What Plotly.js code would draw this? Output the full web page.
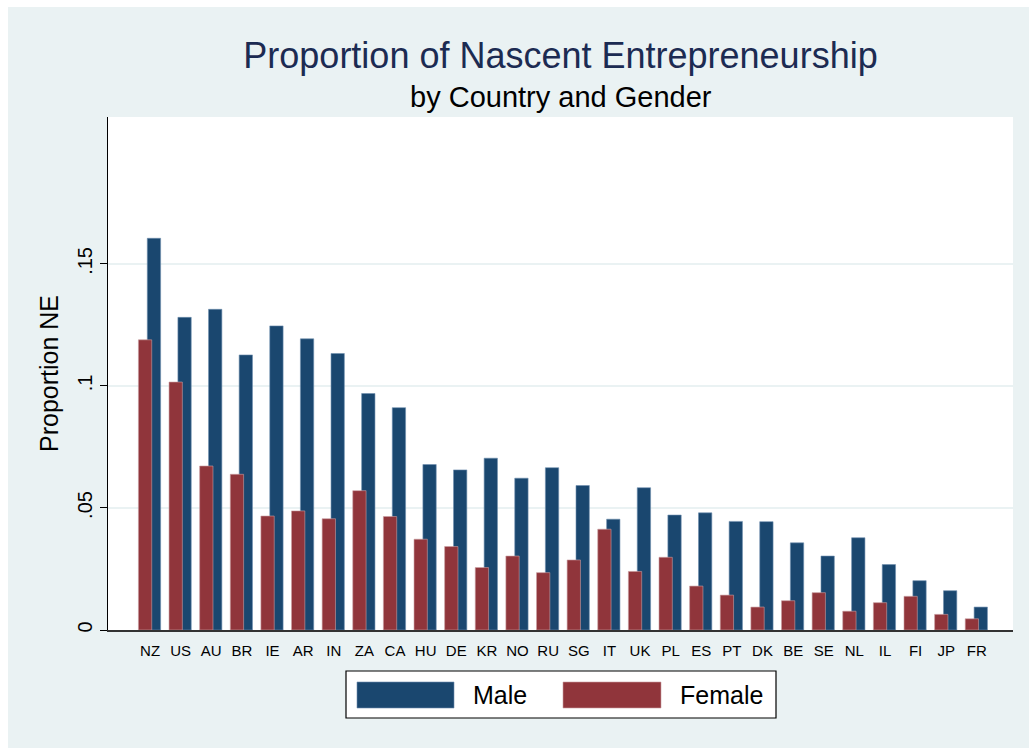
<!DOCTYPE html>
<html>
<head>
<meta charset="utf-8">
<script src="https://cdn.plot.ly/plotly-3.0.1.min.js"></script>
<style>
html, body { margin: 0; padding: 0; background: #ffffff; }
#chart { position: absolute; left: 8px; top: 7px; width: 1021px; height: 741px; }
</style>
</head>
<body>
<div id="chart"></div>
<script>
// ---- data ----
const countries = ["NZ","US","AU","BR","IE","AR","IN","ZA","CA","HU","DE","KR","NO","RU","SG","IT","UK","PL","ES","PT","DK","BE","SE","NL","IL","FI","JP","FR"];
const maleValues = [0.1605,0.1281,0.1314,0.1127,0.1246,0.1193,0.1133,0.0969,0.0911,0.0678,0.0656,0.0704,0.0622,0.0665,0.0592,0.0454,0.0583,0.0471,0.0480,0.0445,0.0444,0.0357,0.0303,0.0378,0.0268,0.0202,0.0161,0.0094];
const femaleValues = [0.1189,0.1016,0.0672,0.0638,0.0467,0.0488,0.0456,0.0571,0.0465,0.0372,0.0342,0.0256,0.0303,0.0235,0.0287,0.0413,0.0240,0.0298,0.0180,0.0143,0.0094,0.0120,0.0153,0.0077,0.0112,0.0138,0.0064,0.0046];
const seriesNames = ["Male", "Female"];
const yTickVals = [0, 0.05, 0.1, 0.15];
const yTickText = ["0", ".05", ".1", ".15"];
const titleText = "Proportion of Nascent Entrepreneurship";
const subtitleText = "by Country and Gender";
const yTitle = "Proportion NE";

// ---- layout helpers ----
const W = 1021, H = 741;
const M = { l: 100, r: 16, t: 110, b: 118 };
const plotW = W - M.l - M.r, plotH = H - M.t - M.b;
const px = X => (X - M.l) / plotW;
const py = Y => (H - M.b - Y) / plotH;

const maleColor = "#1a476f";
const femaleColor = "#90353b";
const positions = countries.map((c, i) => i);

const traces = [
  {
    type: "bar", name: seriesNames[0], x: positions, y: maleValues,
    width: 0.435, offset: -0.09,
    marker: { color: maleColor, line: { color: "#6f8fae", width: 0.6 } },
    showlegend: false, hoverinfo: "y"
  },
  {
    type: "bar", name: seriesNames[1], x: positions, y: femaleValues,
    width: 0.435, offset: -0.38,
    marker: { color: femaleColor, line: { color: "#c9a0a3", width: 0.6 } },
    showlegend: false, hoverinfo: "y"
  }
];

const font = "Liberation Sans, Arial, sans-serif";

const shapes = [
  // legend box
  { type: "rect", xref: "paper", yref: "paper", x0: px(338), x1: px(768), y0: py(711), y1: py(664),
    line: { color: "#000000", width: 1.2 }, fillcolor: "#ffffff" },
  { type: "rect", xref: "paper", yref: "paper", x0: px(349), x1: px(446), y0: py(701), y1: py(675),
    line: { color: "#6f8fae", width: 0.6 }, fillcolor: maleColor },
  { type: "rect", xref: "paper", yref: "paper", x0: px(555), x1: px(653), y0: py(701), y1: py(675),
    line: { color: "#c9a0a3", width: 0.6 }, fillcolor: femaleColor }
];

const annotations = [
  { xref: "paper", yref: "paper", x: 0.5, y: py(90), xanchor: "center", yanchor: "middle",
    text: subtitleText, showarrow: false, font: { family: font, size: 29, color: "#000000" } },
  { xref: "paper", yref: "paper", x: px(463), y: py(688), xanchor: "left", yanchor: "middle",
    text: seriesNames[0], showarrow: false, font: { family: font, size: 25, color: "#000000" } },
  { xref: "paper", yref: "paper", x: px(670), y: py(688), xanchor: "left", yanchor: "middle",
    text: seriesNames[1], showarrow: false, font: { family: font, size: 25, color: "#000000" } }
];

const layout = {
  width: W, height: H,
  margin: M,
  paper_bgcolor: "#eaf2f3",
  plot_bgcolor: "#ffffff",
  font: { family: font, color: "#000000" },
  title: { text: titleText, x: 0.5, xref: "paper", xanchor: "center",
           y: 1 - 48 / H, yref: "container", yanchor: "middle",
           font: { family: font, size: 36, color: "#1c2b52" } },
  barmode: "overlay",
  showlegend: false,
  xaxis: {
    range: [-1.373, 28.18], tickmode: "array", tickvals: positions, ticktext: countries,
    ticks: "", showgrid: false, zeroline: false,
    showline: true, linecolor: "#333333", linewidth: 1.5,
    tickfont: { family: font, size: 15, color: "#000000" }, ticklabelstandoff: 6,
    fixedrange: true
  },
  yaxis: {
    range: [0, 0.2102], tickmode: "array", tickvals: yTickVals, ticktext: yTickText,
    tickangle: -90, ticks: "outside", ticklen: 7, tickcolor: "#000000", tickwidth: 1,
    showline: true, linecolor: "#000000", linewidth: 1.2,
    showgrid: true, gridcolor: "#eaf2f3", gridwidth: 2, zeroline: false,
    tickfont: { family: font, size: 20, color: "#000000" },
    title: { text: yTitle, font: { family: font, size: 25, color: "#000000" }, standoff: 8 },
    fixedrange: true
  },
  shapes: shapes,
  annotations: annotations
};

Plotly.newPlot("chart", traces, layout, { displayModeBar: false, staticPlot: true });
</script>
</body>
</html>
